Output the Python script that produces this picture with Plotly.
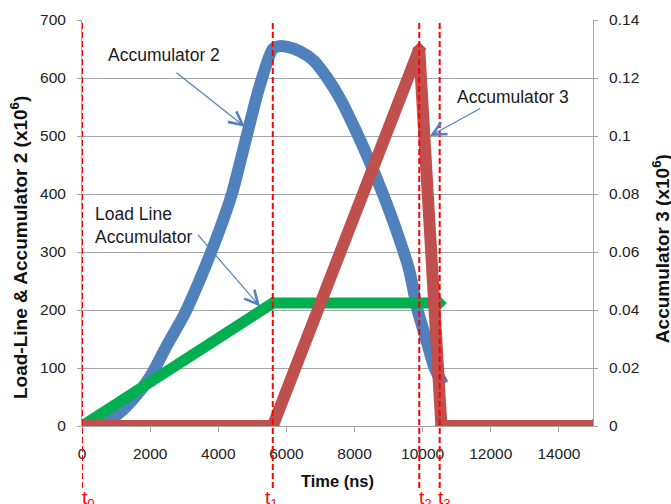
import plotly.graph_objects as go

# ---------------- data ----------------
acc2_t = [0, 500, 1000, 1500, 2000, 2500, 3000, 3500, 4000, 4400, 4800, 5200, 5600,
          5800, 6000, 6400, 6800, 7200, 7600, 8000, 8400, 8800, 9200, 9600, 9850,
          10100, 10350, 10600]
acc2_v = [0, 4, 18, 46, 85, 140, 192, 258, 332, 400, 492, 583, 650,
          655, 654, 646, 630, 600, 562, 514, 462, 405, 342, 270, 200,
          150, 100, 72]

load_t = [0, 5600, 10500]
load_v = [0, 212, 212]

acc3_t = [0, 5600, 9900, 10550, 15000]
acc3_v = [0, 0, 0.13, 0, 0]

t_marks = [0, 5600, 9900, 10500]
t_labels = ["t<sub>0</sub>", "t<sub>1</sub>", "t<sub>2</sub>", "t<sub>3</sub>"]
t_label_shift = [6, -1, 6, 5]

x_ticks = [0, 2000, 4000, 6000, 8000, 10000, 12000, 14000]
y_ticks = [0, 100, 200, 300, 400, 500, 600, 700]
y2_ticks = [0, 0.02, 0.04, 0.06, 0.08, 0.1, 0.12, 0.14]

FONT = "Liberation Sans, Arial, sans-serif"
BLUE = "#4F81BD"
GREEN = "#00B050"
RED = "#C0504D"
GRID = "#A6A6A6"

fig = go.Figure()

fig.add_trace(go.Scatter(x=acc2_t, y=acc2_v, mode="lines", name="Accumulator 2",
                         line=dict(color=BLUE, width=12, shape="spline", smoothing=0.7)))
fig.add_trace(go.Scatter(x=load_t, y=load_v, mode="lines+markers", name="Load Line",
                         line=dict(color=GREEN, width=11),
                         marker=dict(symbol="diamond", size=11, color=GREEN)))
fig.add_trace(go.Scatter(x=acc3_t, y=acc3_v, mode="lines+markers", name="Accumulator 3",
                         yaxis="y2", line=dict(color=RED, width=12),
                         marker=dict(symbol="diamond", size=11, color=RED)))

# vertical dashed markers
for tm, lab, sh in zip(t_marks, t_labels, t_label_shift):
    fig.add_shape(type="line", xref="x", yref="paper", x0=tm, x1=tm, y0=-0.153, y1=1.0,
                  line=dict(color="#FF0000", width=2, dash="6px,3px"), layer="above")
    fig.add_annotation(x=tm, xref="x", y=-0.145, yref="paper", text=lab, showarrow=False,
                       xanchor="center", yanchor="top", xshift=sh,
                       font=dict(family=FONT, size=19, color="#FF0000"))

# callout texts
txt_font = dict(family=FONT, size=17.5, color="#1a1a1a")
fig.add_annotation(x=700, y=640, xref="x", yref="y", text="Accumulator 2", showarrow=False,
                   xanchor="left", yanchor="middle", font=txt_font)
fig.add_annotation(x=10950, y=568, xref="x", yref="y", text="Accumulator 3", showarrow=False,
                   xanchor="left", yanchor="middle", font=txt_font)
fig.add_annotation(x=320, y=346, xref="x", yref="y", text="Load Line<br>Accumulator",
                   showarrow=False, xanchor="left", yanchor="middle", align="left",
                   font=txt_font)

# callout arrows
for (hx, hy, tx, ty) in [(4784, 516, 2730, 611), (10214, 500, 11732, 549),
                         (5225, 206, 3367, 332)]:
    fig.add_annotation(x=hx, y=hy, xref="x", yref="y", ax=tx, ay=ty, axref="x", ayref="y",
                       text="", showarrow=True, arrowhead=5, arrowsize=2.2,
                       arrowwidth=1.2, arrowcolor=BLUE)

# axis titles
vtitle_font = dict(family=FONT, size=19, color="#111111")
fig.add_annotation(x=-0.122, y=0.44, xref="paper", yref="paper", showarrow=False,
                   text="<b>Load-Line &amp; Accumulator 2 (x10<sup>6</sup>)</b>",
                   textangle=-90, xanchor="center", yanchor="middle", font=vtitle_font)
fig.add_annotation(x=1.133, y=0.438, xref="paper", yref="paper", showarrow=False,
                   text="<b>Accumulator 3 (x10<sup>6</sup>)</b>",
                   textangle=-90, xanchor="center", yanchor="middle", font=vtitle_font)
fig.add_annotation(x=0.5, y=-0.135, xref="paper", yref="paper", showarrow=False,
                   text="<b>Time (ns)</b>", xanchor="center", yanchor="middle",
                   font=dict(family=FONT, size=16.5, color="#111111"))

tick_font = dict(family=FONT, size=15.5, color="#222222")
fig.update_layout(
    width=671, height=504,
    margin=dict(l=82, r=78, t=20, b=78, autoexpand=False),
    paper_bgcolor="white", plot_bgcolor="white",
    showlegend=False,
    xaxis=dict(range=[0, 15000], tickvals=x_ticks, tickformat="d", showgrid=False,
               zeroline=False, showline=True, linecolor=GRID, linewidth=1,
               ticks="outside", ticklen=5, tickcolor=GRID, tickfont=tick_font,
               ticklabelstandoff=8),
    yaxis=dict(range=[0, 700], tickvals=y_ticks, showgrid=True, gridcolor=GRID,
               gridwidth=1, zeroline=False, showline=True, linecolor=GRID,
               ticks="outside", ticklen=4, tickcolor=GRID, tickfont=tick_font,
               ticklabelstandoff=8),
    yaxis2=dict(range=[0, 0.14], tickvals=y2_ticks, overlaying="y", side="right",
                showgrid=False, zeroline=False, showline=True, linecolor=GRID,
                ticks="outside", ticklen=4, tickcolor=GRID, tickfont=tick_font,
                ticklabelstandoff=8),
)

fig.write_html("out.html")
